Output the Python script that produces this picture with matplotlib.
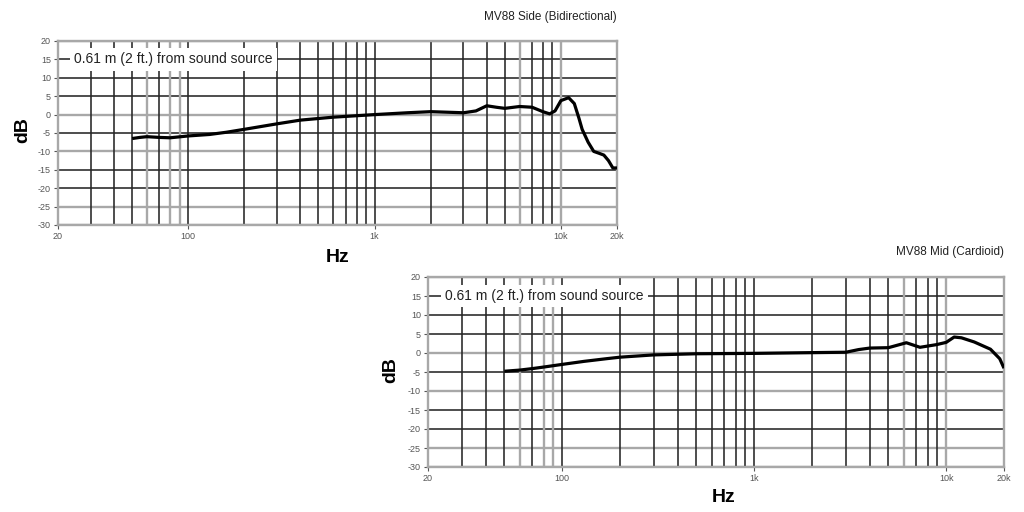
import matplotlib
matplotlib.use("Agg")
import matplotlib.pyplot as plt
import numpy as np

plt.rcParams['font.family'] = ['Liberation Sans', 'DejaVu Sans']

# ---- data ----
side_freq = [50, 55, 60, 70, 80, 100, 130, 160, 200, 300, 400, 600, 1000, 1500, 2000,
             3000, 3500, 4000, 4500, 5000, 6000, 7000, 8000, 8700, 9300, 10000, 11000,
             11800, 12500, 13000, 14000, 15000, 16000, 17000, 18000, 19000, 20000]
side_db = [-6.5, -6.2, -6.0, -6.2, -6.3, -5.8, -5.4, -4.8, -4.0, -2.5, -1.5, -0.7, 0.0, 0.5, 0.8,
           0.5, 1.0, 2.4, 2.0, 1.7, 2.2, 2.0, 0.8, 0.2, 1.0, 3.8, 4.6,
           3.0, -1.0, -4.0, -7.5, -10.0, -10.5, -11.0, -12.5, -14.5, -14.5]

mid_freq = [50, 60, 70, 80, 100, 130, 170, 200, 300, 500, 1000, 2000, 3000, 3500, 4000,
            5000, 6200, 7300, 8900, 10000, 11000, 12000, 14000, 17000, 19000, 20000]
mid_db = [-4.8, -4.5, -4.1, -3.7, -3.0, -2.2, -1.5, -1.1, -0.5, -0.2, -0.1, 0.1, 0.2, 0.9, 1.3,
          1.4, 2.7, 1.5, 2.2, 2.8, 4.2, 4.0, 2.9, 1.0, -1.5, -4.0]

titles = ["MV88 Side (Bidirectional)", "MV88 Mid (Cardioid)"]
note = "0.61 m (2 ft.) from sound source"
xtick_vals = [20, 100, 1000, 10000, 20000]
xtick_labels = ["20", "100", "1k", "10k", "20k"]
ytick_vals = list(range(-30, 25, 5))
grid_freqs = [30, 40, 50, 60, 70, 80, 90, 100, 200, 300, 400, 500, 600, 700, 800, 900,
              1000, 2000, 3000, 4000, 5000, 6000, 7000, 8000, 9000, 10000]
gray_freqs = [60, 80, 90, 6000, 10000]
gray_db = [20, 0, -10, -25, -30]

fig = plt.figure(figsize=(10.24, 5.12), dpi=100)

axes_rects = [
    [58 / 1024, 1 - 225 / 512, (617 - 58) / 1024, (225 - 41) / 512],
    [428 / 1024, 1 - 467 / 512, (1004 - 428) / 1024, (467 - 277) / 512],
]
datasets = [(side_freq, side_db), (mid_freq, mid_db)]
hz_pos = [(338 / 1024, 1 - 258 / 512), (724 / 1024, 1 - 498 / 512)]
db_pos = [(23 / 1024, 1 - 130 / 512), (391 / 1024, 1 - 370 / 512)]

for i, rect in enumerate(axes_rects):
    ax = fig.add_axes(rect)
    ax.set_xscale('log')
    ax.set_xlim(20, 20000)
    ax.set_ylim(-30, 20)

    for d in ytick_vals:
        if d in gray_db:
            ax.axhline(d, color='#a8a8a8', lw=1.7, zorder=1)
        else:
            ax.axhline(d, color='#262626', lw=1.15, zorder=1)
    for f in grid_freqs:
        if f in gray_freqs:
            ax.axvline(f, color='#a8a8a8', lw=1.7, zorder=1)
        else:
            ax.axvline(f, color='#262626', lw=1.15, zorder=1)

    freq, db = datasets[i]
    ax.plot(freq, db, color='black', lw=2.3, zorder=4, solid_capstyle='butt')

    ax.text(24.5, 15, note, fontsize=10, color='#222222', va='center', ha='left', zorder=3,
            bbox=dict(facecolor='white', edgecolor='none', pad=3))

    ax.set_xticks(xtick_vals)
    ax.set_xticklabels(xtick_labels)
    ax.xaxis.set_minor_locator(matplotlib.ticker.NullLocator())
    ax.set_yticks(ytick_vals)
    ax.set_yticklabels([str(v) for v in ytick_vals])
    ax.tick_params(axis='both', labelsize=6.5, colors='#555555', length=3, width=0.8,
                   direction='out', pad=2)

    for sp in ax.spines.values():
        sp.set_color('#a8a8a8')
        sp.set_linewidth(1.7)

    ax.text(1.0, 1.1, titles[i], transform=ax.transAxes, ha='right', va='bottom',
            fontsize=8.5, color='#222222')

    fig.text(hz_pos[i][0], hz_pos[i][1], "Hz", ha='center', va='center',
             fontsize=14, fontweight='bold')
    fig.text(db_pos[i][0], db_pos[i][1], "dB", ha='center', va='center',
             fontsize=14, fontweight='bold', rotation=90)

fig.savefig("out.png", dpi=100, facecolor='white')
